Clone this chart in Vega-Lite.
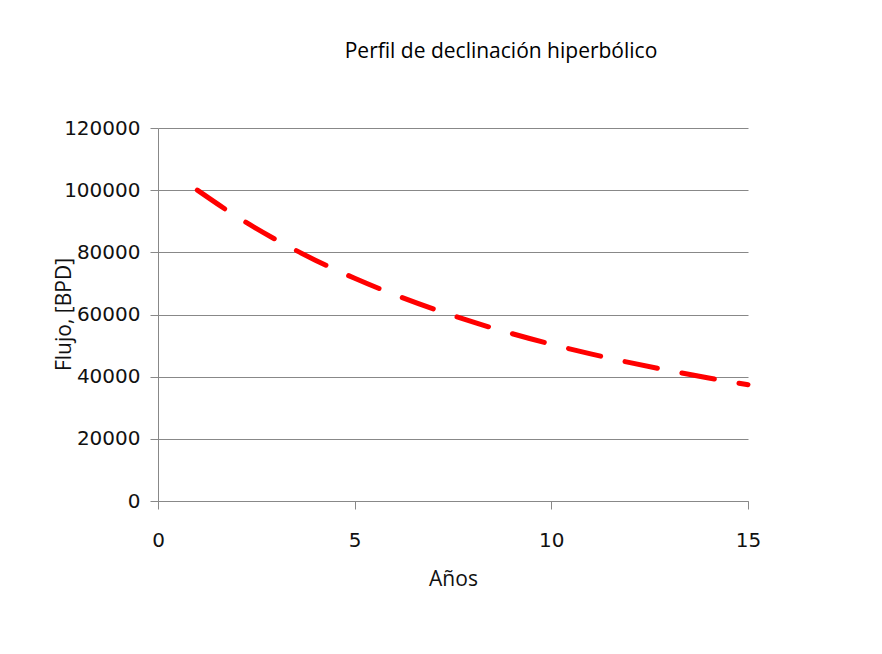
{
  "$schema": "https://vega.github.io/schema/vega-lite/v6.json",
  "autosize": "none",
  "width": 590,
  "height": 373,
  "padding": {"left": 158, "top": 128, "right": 134, "bottom": 153},
  "background": "white",
  "title": {
    "text": "Perfil de declinación hiperbólico",
    "font": "Open Sans",
    "fontSize": 21,
    "fontWeight": "normal",
    "color": "black",
    "anchor": "middle",
    "frame": "group",
    "dx": 48,
    "offset": 56
  },
  "config": {
    "view": {"stroke": null},
    "axis": {
      "domainColor": "#888888",
      "tickColor": "#888888",
      "gridColor": "#888888",
      "labelFont": "DejaVu Sans",
      "labelFontSize": 20,
      "labelColor": "#111111",
      "titleFont": "Open Sans",
      "titleFontSize": 21,
      "titleFontWeight": "normal",
      "titleColor": "#111111",
      "tickSize": 8
    }
  },
  "data": {
    "values": [
      {"anio": 1, "flujo": 100000},
      {"anio": 2, "flujo": 91511},
      {"anio": 3, "flujo": 84060},
      {"anio": 4, "flujo": 77483},
      {"anio": 5, "flujo": 71648},
      {"anio": 6, "flujo": 66449},
      {"anio": 7, "flujo": 61796},
      {"anio": 8, "flujo": 57614},
      {"anio": 9, "flujo": 53844},
      {"anio": 10, "flujo": 50431},
      {"anio": 11, "flujo": 47334},
      {"anio": 12, "flujo": 44513},
      {"anio": 13, "flujo": 41936},
      {"anio": 14, "flujo": 39578},
      {"anio": 15, "flujo": 37413}
    ]
  },
  "mark": {
    "type": "line",
    "color": "#FF0000",
    "strokeWidth": 5,
    "strokeDash": [33, 25],
    "strokeCap": "round",
    "interpolate": "monotone"
  },
  "encoding": {
    "x": {
      "field": "anio",
      "type": "quantitative",
      "scale": {"domain": [0, 15], "nice": false},
      "axis": {
        "title": "Años",
        "values": [0, 5, 10, 15],
        "grid": false,
        "labelPadding": 21,
        "titlePadding": 18,
        "labelFlush": false
      }
    },
    "y": {
      "field": "flujo",
      "type": "quantitative",
      "scale": {"domain": [0, 120000], "nice": false},
      "axis": {
        "title": "Flujo, [BPD]",
        "values": [0, 20000, 40000, 60000, 80000, 100000, 120000],
        "grid": true,
        "format": "d",
        "labelPadding": 10,
        "titleAngle": -90,
        "titleX": -94,
        "titleY": 186,
        "titleAlign": "center",
        "titleBaseline": "middle",
        "labelFlush": false
      }
    }
  }
}
